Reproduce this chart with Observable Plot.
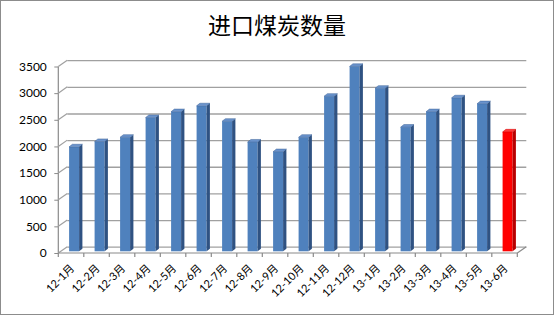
<!DOCTYPE html>
<html><head><meta charset="utf-8">
<script src="https://cdn.jsdelivr.net/npm/d3@7"></script>
<script src="https://cdn.jsdelivr.net/npm/@observablehq/plot@0.6"></script>
<style>
body{margin:0;background:#fff;}
#wrap{position:relative;width:554px;height:315px;box-sizing:border-box;border:1px solid #8c8c8c;background:#fff;overflow:hidden;}
#title{height:46px;line-height:46px;text-align:center;font-family:"Noto Sans CJK SC",sans-serif;font-size:23px;color:#000;}
#chart svg{display:block;}
</style></head><body>
<div id="wrap"><div id="title">进口煤炭数量</div><div id="chart"></div></div>
<script>
const months = ["12-1月","12-2月","12-3月","12-4月","12-5月","12-6月","12-7月","12-8月","12-9月","12-10月","12-11月","12-12月","13-1月","13-2月","13-3月","13-4月","13-5月","13-6月"];
const imports = [1960, 2060, 2140, 2510, 2620, 2730, 2440, 2050, 1870, 2140, 2910, 3470, 3060, 2330, 2620, 2880, 2770, 2240];
const highlightMonth = "13-6月";
const yTicks = [0, 500, 1000, 1500, 2000, 2500, 3000, 3500];

const data = months.map((m, i) => ({month: m, value: imports[i]}));

const W = 552, H = 267;
const wall = [9, -6.3];      // back wall offset
const shift = [3, -1.7];     // bar position inside depth
const depth = [3.3, -2.6];   // bar depth
const insetL = 7.8, insetR = 7.7;

const plot = Plot.plot({
  width: W, height: H,
  marginLeft: 57.3, marginRight: 35.7, marginTop: 19.5, marginBottom: 61,
  x: {domain: months, padding: 0, round: false, label: null},
  y: {domain: [0, 3500], label: null},
  style: {fontFamily: "Lato, 'Noto Sans CJK SC', sans-serif", color: "#000", background: "#fff"},
  marks: [
    Plot.ruleY(yTicks, {dx: wall[0], dy: wall[1], stroke: "#a0a0a0", strokeWidth: 1.3}),
    Plot.axisY(yTicks, {tickSize: 4, tickPadding: 8, fontSize: 12, stroke: "#8a8a8a", tickFormat: d => String(d)}),
    Plot.axisX({tickSize: 0, tickRotate: -45, tickPadding: 13, dx: 1, fontSize: 11}),
    Plot.barY(data.filter(d => d.month !== highlightMonth), {x: "month", y: "value", fill: "#4f81bd", insetLeft: insetL, insetRight: insetR, dx: shift[0], dy: shift[1]}),
    Plot.barY(data.filter(d => d.month === highlightMonth), {x: "month", y: "value", fill: "#ff0000", insetLeft: insetL, insetRight: insetR, dx: shift[0], dy: shift[1]})
  ]
});
document.getElementById("chart").appendChild(plot);

// 3D decorations using Plot's own scales
const xs = plot.scale("x"), ys = plot.scale("y");
const xf = xs.apply ? v => xs.apply(v) : d3.scaleBand(xs.domain, xs.range).paddingInner(xs.paddingInner ?? 0).paddingOuter(xs.paddingOuter ?? 0).align(xs.align ?? 0.5);
const bw = xs.bandwidth ?? (xf.bandwidth ? xf.bandwidth() : 0);
const yf = ys.apply ? v => ys.apply(v) : d3.scaleLinear(ys.domain, ys.range);

const svg = d3.select(plot);
const g = svg.append("g");
const y0 = yf(0), yTop = yf(3500);
const xL = xf(months[0]), xR = xf(months[months.length - 1]) + bw;
const lineCol = "#8a8a8a";
// left axis
g.append("line").attr("x1", xL).attr("x2", xL).attr("y1", y0).attr("y2", yTop).attr("stroke", lineCol).attr("stroke-width", 1.2);
// left wall connectors
yTicks.forEach(t => {
  g.append("line").attr("x1", xL).attr("y1", yf(t)).attr("x2", xL + wall[0]).attr("y2", yf(t) + wall[1]).attr("stroke", "#a0a0a0").attr("stroke-width", 1.2);
});
// floor front edge & right edge
g.append("line").attr("x1", xL).attr("x2", xR).attr("y1", y0).attr("y2", y0).attr("stroke", lineCol).attr("stroke-width", 1.2);
g.append("line").attr("x1", xR).attr("y1", y0).attr("x2", xR + wall[0]).attr("y2", y0 + wall[1]).attr("stroke", lineCol).attr("stroke-width", 1.2);
// category boundary ticks
months.concat([null]).forEach((m, i) => {
  const x = m === null ? xR : xf(m);
  g.append("line").attr("x1", x).attr("x2", x).attr("y1", y0).attr("y2", y0 + 4).attr("stroke", lineCol).attr("stroke-width", 1.2);
});
// bar side and top faces
data.forEach(d => {
  const red = d.month === highlightMonth;
  const x1 = xf(d.month) + insetL + shift[0];
  const x2 = xf(d.month) + bw - insetR + shift[0];
  const yv = yf(d.value) + shift[1];
  const yb = y0 + shift[1];
  const side = [[x2, yb], [x2 + depth[0], yb + depth[1]], [x2 + depth[0], yv + depth[1]], [x2, yv]];
  const top = [[x1, yv], [x1 + depth[0], yv + depth[1]], [x2 + depth[0], yv + depth[1]], [x2, yv]];
  g.append("polygon").attr("points", side.map(p => p.join(",")).join(" ")).attr("fill", red ? "#b80000" : "#2f5282");
  g.append("polygon").attr("points", top.map(p => p.join(",")).join(" ")).attr("fill", red ? "#ff3a3a" : "#6a93cc").attr("stroke", red ? "#d00000" : "#3c6399").attr("stroke-width", 0.5);
});
</script>
</body></html>
